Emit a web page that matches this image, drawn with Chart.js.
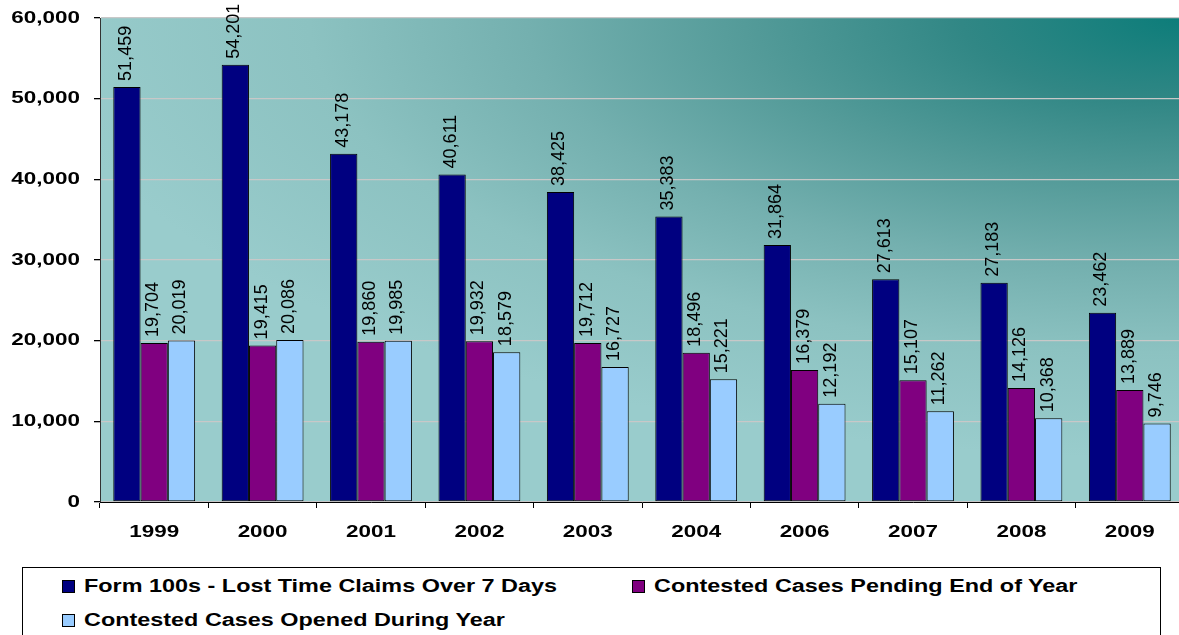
<!DOCTYPE html>
<html>
<head>
<meta charset="utf-8">
<script src="https://cdn.jsdelivr.net/npm/chart.js@4"></script>
<style>
    body { margin: 0; background: #fff; overflow: hidden; width: 1179px; height: 635px; }
    #wrap { position: relative; width: 1179px; height: 635px; overflow: hidden; }
    #chart { position: absolute; left: 0; top: 0; }
    .legend { position: absolute; left: 22px; top: 567px; width: 1137px; height: 100px; border: 1px solid #000; background: #fff; }
    .item { position: absolute; height: 20px; }
    .box { position: absolute; left: 0; top: 4px; width: 11px; height: 11px; border: 1px solid #000; }
    .txt { position: absolute; left: 22px; top: 0; white-space: nowrap; font: bold 18px "Liberation Sans", Arial, sans-serif; line-height: 20px; color: #000; transform: scaleX(1.3); transform-origin: left center; }
</style>
</head>
<body>
<div id="wrap">
    <canvas id="chart" width="1184" height="560"></canvas>
    <div class="legend" id="legend"></div>
</div>
<script>
const years = ['1999', '2000', '2001', '2002', '2003', '2004', '2006', '2007', '2008', '2009'];
const form100s = [51459, 54201, 43178, 40611, 38425, 35383, 31864, 27613, 27183, 23462];
const pending = [19704, 19415, 19860, 19932, 19712, 18496, 16379, 15107, 14126, 13889];
const opened = [20019, 20086, 19985, 18579, 16727, 15221, 12192, 11262, 10368, 9746];
const seriesNames = ['Form 100s - Lost Time Claims Over 7 Days', 'Contested Cases Pending End of Year', 'Contested Cases Opened During Year'];
const seriesColors = ['#000080', '#800080', '#99ccff'];
const yTicks = [0, 10000, 20000, 30000, 40000, 50000, 60000];

const STRETCH = 1.32;
const fmt = v => v.toLocaleString('en-US');

// gradient backdrop, darkest in the top right corner
const plotBg = {
    id: 'plotBg',
    beforeDraw(chart) {
        const { ctx, chartArea: a } = chart;
        ctx.save();
        ctx.beginPath();
        ctx.rect(a.left, a.top, a.right - a.left, a.bottom - a.top);
        ctx.clip();
        ctx.translate(1179, a.top);
        ctx.scale(2.6, 1);
        const g = ctx.createRadialGradient(0, 0, 0, 0, 0, 440);
        g.addColorStop(0, '#0d7d7a');
        g.addColorStop(0.19, '#318785');
        g.addColorStop(0.38, '#549b99');
        g.addColorStop(0.57, '#74b0af');
        g.addColorStop(0.76, '#8cc2c1');
        g.addColorStop(1, '#99cccc');
        ctx.fillStyle = g;
        ctx.fillRect(-500, -10, 520, 600);
        ctx.restore();
    }
};

// tick labels, widened like the original export
const axisText = {
    id: 'axisText',
    afterDraw(chart) {
        const { ctx } = chart;
        const y = chart.scales.y, x = chart.scales.x;
        ctx.save();
        ctx.fillStyle = '#000';
        ctx.font = 'bold 17px "Liberation Sans", Arial, sans-serif';
        ctx.textBaseline = 'middle';
        ctx.textAlign = 'right';
        yTicks.forEach(v => {
            ctx.save();
            ctx.translate(80, y.getPixelForValue(v));
            ctx.scale(STRETCH, 1);
            ctx.fillText(fmt(v), 0, 0);
            ctx.restore();
        });
        ctx.textAlign = 'center';
        years.forEach((lab, i) => {
            ctx.save();
            ctx.translate(x.getPixelForValue(i), 532);
            ctx.scale(STRETCH, 1);
            ctx.fillText(lab, 0, 0);
            ctx.restore();
        });
        ctx.restore();
    }
};

// vertical value labels above each bar
const barValues = {
    id: 'barValues',
    afterDatasetsDraw(chart) {
        const { ctx } = chart;
        ctx.save();
        ctx.fillStyle = '#000';
        ctx.font = '18px "Liberation Sans", Arial, sans-serif';
        ctx.textAlign = 'left';
        ctx.textBaseline = 'middle';
        chart.data.datasets.forEach((ds, di) => {
            chart.getDatasetMeta(di).data.forEach((bar, i) => {
                ctx.save();
                ctx.translate(bar.x - 1, bar.y - 6);
                ctx.rotate(-Math.PI / 2);
                ctx.fillText(fmt(ds.data[i]), 0, 0);
                ctx.restore();
            });
        });
        ctx.restore();
    }
};

function dataset(i, values) {
    return {
        label: seriesNames[i],
        data: values,
        backgroundColor: seriesColors[i],
        borderColor: '#000',
        borderWidth: 1,
        borderSkipped: false,
        categoryPercentage: 0.755,
        barPercentage: 1
    };
}

function buildChart() {
    /* global Chart */
    return new Chart(document.getElementById('chart'), {
        type: 'bar',
        data: { labels: years, datasets: [dataset(0, form100s), dataset(1, pending), dataset(2, opened)] },
        options: {
            responsive: false,
            animation: false,
            layout: { padding: { top: 18, left: 0, right: 0, bottom: 0 } },
            plugins: { legend: { display: false }, tooltip: { enabled: false } },
            scales: {
                x: {
                    grid: { offset: true, drawOnChartArea: false, tickLength: 6, tickColor: '#000', tickWidth: 1 },
                    border: { color: '#000', width: 1 },
                    ticks: { display: false },
                    afterFit: s => { s.height = 58; }
                },
                y: {
                    min: 0, max: 60000,
                    afterBuildTicks: s => { s.ticks = yTicks.map(v => ({ value: v })); },
                    grid: { color: '#c8c8c8', tickLength: 6, tickColor: '#000', lineWidth: 1.3 },
                    border: { color: '#333', width: 1 },
                    ticks: { display: false },
                    afterFit: s => { s.width = 100; }
                }
            }
        },
        plugins: [plotBg, axisText, barValues]
    });
}

function buildLegend() {
    const pos = [[39, 8], [609, 8], [39, 42]];
    const html = seriesNames.map((n, i) => `
        <div class="item" style="left:${pos[i][0]}px; top:${pos[i][1]}px">
            <div class="box" style="background:${seriesColors[i]}"></div>
            <div class="txt">${n}</div>
        </div>`).join('');
    document.getElementById('legend').innerHTML = html;
}

buildChart();
buildLegend();
</script>
</body>
</html>
